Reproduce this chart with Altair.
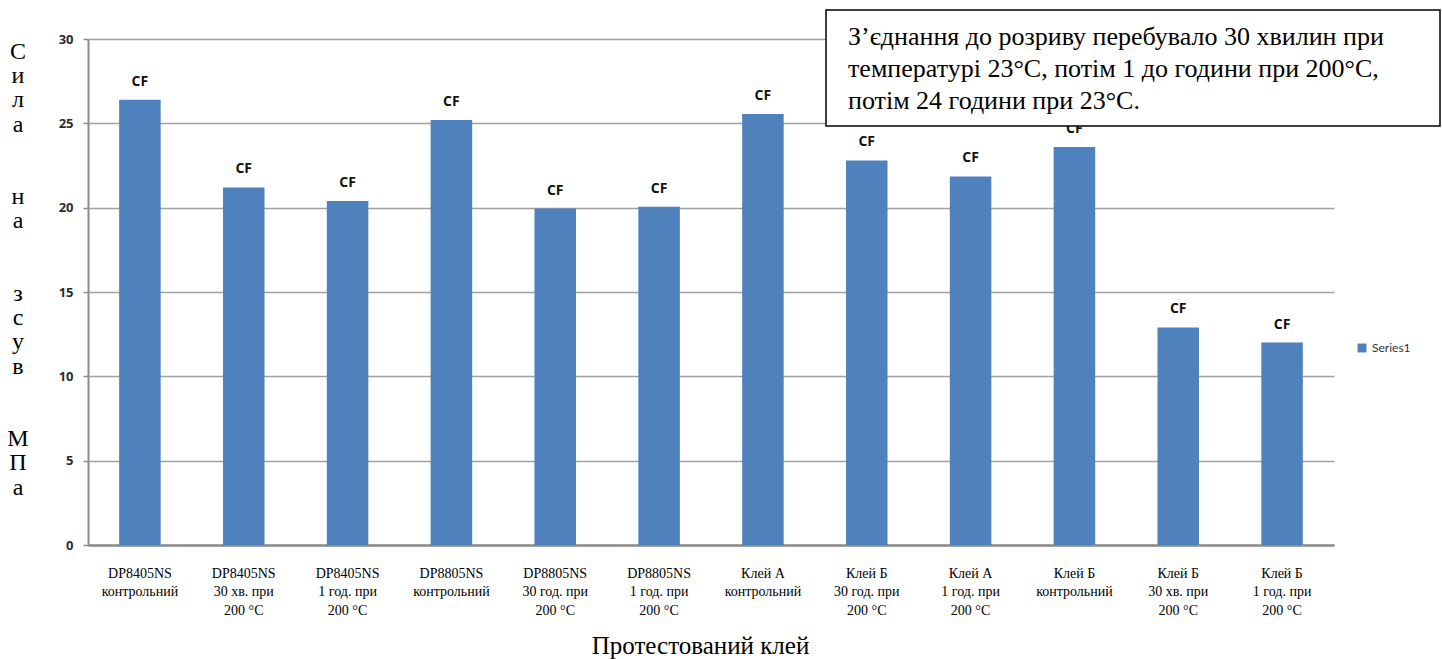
import altair as alt
import pandas as pd

categories = [
    "DP8405NS\nконтрольний",
    "DP8405NS\n30 хв. при\n200 °C",
    "DP8405NS\n1 год. при\n200 °C",
    "DP8805NS\nконтрольний",
    "DP8805NS\n30 год. при\n200 °C",
    "DP8805NS\n1 год. при\n200 °C",
    "Клей А\nконтрольний",
    "Клей Б\n30 год. при\n200 °C",
    "Клей А\n1 год. при\n200 °C",
    "Клей Б\nконтрольний",
    "Клей Б\n30 хв. при\n200 °C",
    "Клей Б\n1 год. при\n200 °C",
]
shear_strength = [26.4, 21.2, 20.4, 25.2, 19.95, 20.05, 25.55, 22.8, 21.85, 23.6, 12.9, 12.0]
failure_mode = ["CF", "CF", "CF", "CF", "CF", "CF", "CF", "CF", "CF", "CF", "CF", "CF"]
series_name = "Series1"
y_ticks = [0, 5, 10, 15, 20, 25, 30]

# vertical y-axis title, one letter per line, words separated by two blank lines
y_title_words = ["Сила", "на", "зсув", "МПа"]
x_title = "Протестований клей"
note_text = ("З’єднання до розриву перебувало 30 хвилин при\n"
             "температурі 23°С, потім 1 до години при 200°С,\n"
             "потім 24 години при 23°С.")

df = pd.DataFrame({
    "category": categories,
    "value": shear_strength,
    "mode": failure_mode,
    "series": [series_name] * len(categories),
})

x_enc = alt.X(
    "category:N", sort=None,
    scale=alt.Scale(paddingInner=0.6, paddingOuter=0.3),
    axis=alt.Axis(
        title=x_title, labelExpr="split(datum.label, '\\n')", labelAngle=0,
        ticks=False, labelPadding=21, labelLineHeight=18.5, labelOverlap=False,
        labelFont="Liberation Serif", labelFontSize=14, labelColor="black",
        labelBaseline="top",
        domainColor="#8c8c8c", domainWidth=2.5,
        titleFont="Liberation Serif", titleFontSize=25, titleFontWeight="normal",
        titleColor="black", titleX=612, titleY=100, titleBaseline="middle",
        titleAlign="center",
    ),
)
y_enc = alt.Y(
    "value:Q",
    scale=alt.Scale(domain=[0, 30]),
    axis=alt.Axis(
        values=y_ticks, title=None,
        labelFont="Open Sans", labelFontWeight="bold", labelFontSize=13,
        labelColor="#2b2b2b", labelPadding=10,
        tickSize=5, tickColor="#8c8c8c", tickWidth=1.5,
        domainColor="#8c8c8c", domainWidth=2,
        gridColor="#a0a0a0", gridWidth=1.5,
    ),
)

bars = alt.Chart(df).mark_bar().encode(
    x=x_enc, y=y_enc,
    color=alt.Color(
        "series:N", scale=alt.Scale(range=["#4F81BD"]),
        legend=alt.Legend(
            title=None, orient="none", legendX=1268, legendY=303,
            symbolType="square", symbolSize=80, symbolStrokeWidth=0,
            labelFont="Lato", labelFontSize=12, labelColor="#333333",
        ),
    ),
)

labels = alt.Chart(df).mark_text(
    dy=-18, font="Open Sans", fontWeight="bold", fontSize=14, color="#111111"
).encode(x=alt.X("category:N", sort=None), y="value:Q", text="mode:N")

one = pd.DataFrame({"k": [0]})
box = alt.Chart(one).mark_rect(fill="white", stroke="black", strokeWidth=1.5).encode(
    x=alt.value(738), x2=alt.value(1352), y=alt.value(-29), y2=alt.value(87)
)
box_text = alt.Chart(one).mark_text(
    align="left", baseline="middle", font="Liberation Serif", fontSize=26,
    lineHeight=32, lineBreak="\n", color="black"
).encode(x=alt.value(760), y=alt.value(-2), text=alt.value(note_text))

# each word of the y title starts a new block of lines, two empty lines apart
line_h = 24.2
y_title_layers = []
line_index = 0
for word in y_title_words:
    y_title_layers.append(
        alt.Chart(one).mark_text(
            align="center", baseline="middle", font="Liberation Serif", fontSize=24,
            lineHeight=line_h, lineBreak="\n", color="black"
        ).encode(x=alt.value(-70), y=alt.value(13 + line_index * line_h),
                 text=alt.value("\n".join(list(word))))
    )
    line_index += len(word) + 2

chart = alt.layer(bars, labels, box, box_text, *y_title_layers).properties(
    width=1246, height=506,
    autosize=alt.AutoSizeParams(type="none"),
    padding={"left": 88, "top": 39, "right": 108, "bottom": 114},
    background="white",
).configure_view(stroke=None)

chart.save("out.html", embed_options={"renderer": "svg", "actions": False})
